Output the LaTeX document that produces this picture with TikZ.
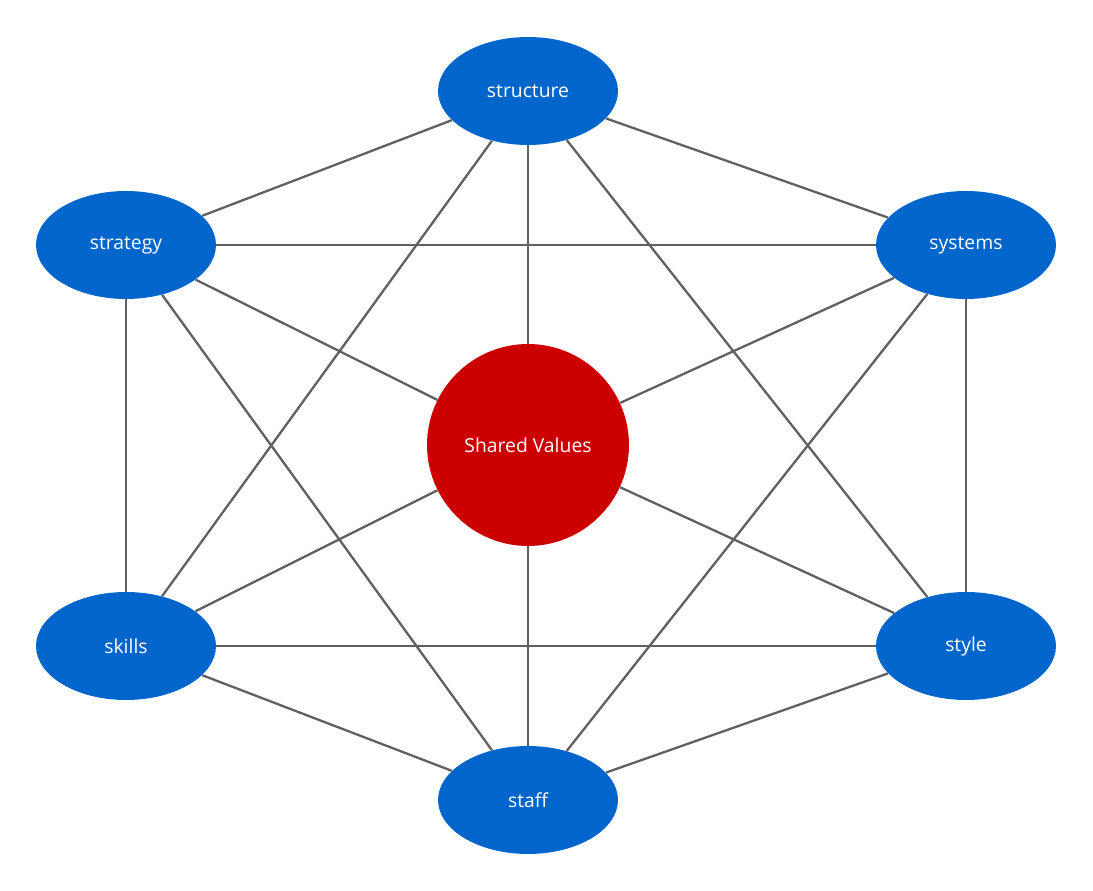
\documentclass[tikz,border=0pt]{standalone}
\usepackage{fontspec}
\setmainfont{Open Sans}
\usetikzlibrary{shapes.geometric}
\definecolor{nblue}{HTML}{0066CC}
\definecolor{nred}{HTML}{CC0000}
\definecolor{edge}{HTML}{606060}
\begin{document}
\begin{tikzpicture}[x=0.02cm,y=-0.02cm,
  el/.style={ellipse,fill=nblue,draw=none,minimum width=3.6cm,minimum height=2.16cm,inner sep=0pt,text=white,font=\fontsize{11}{13}\selectfont},
  core/.style={ellipse,fill=nred,draw=none,minimum width=4.04cm,minimum height=4.04cm,inner sep=0pt,text=white,font=\fontsize{11}{13}\selectfont},
  ln/.style={draw=edge,line width=1.3pt}]
\useasboundingbox (0,0) rectangle (1093,891);
\fill[white] (0,0) rectangle (1093,891);
\node[el] (st) at (528,91) {structure};
\node[el] (sg) at (126,245) {strategy};
\node[el] (sy) at (966,245) {systems};
\node[el] (sk) at (126,646) {skills};
\node[el] (sl) at (966,646) {style};
\node[el] (sf) at (528,800) {staff};
\node[core] (sv) at (528,445) {Shared Values};
\foreach \a/\b in {st/sg,st/sy,st/sv,st/sk,st/sl,sg/sy,sg/sv,sg/sk,sg/sf,sy/sv,sy/sl,sy/sf,sk/sv,sk/sl,sk/sf,sl/sv,sl/sf,sf/sv}
  \draw[ln] (\a) -- (\b);
\end{tikzpicture}
\end{document}
